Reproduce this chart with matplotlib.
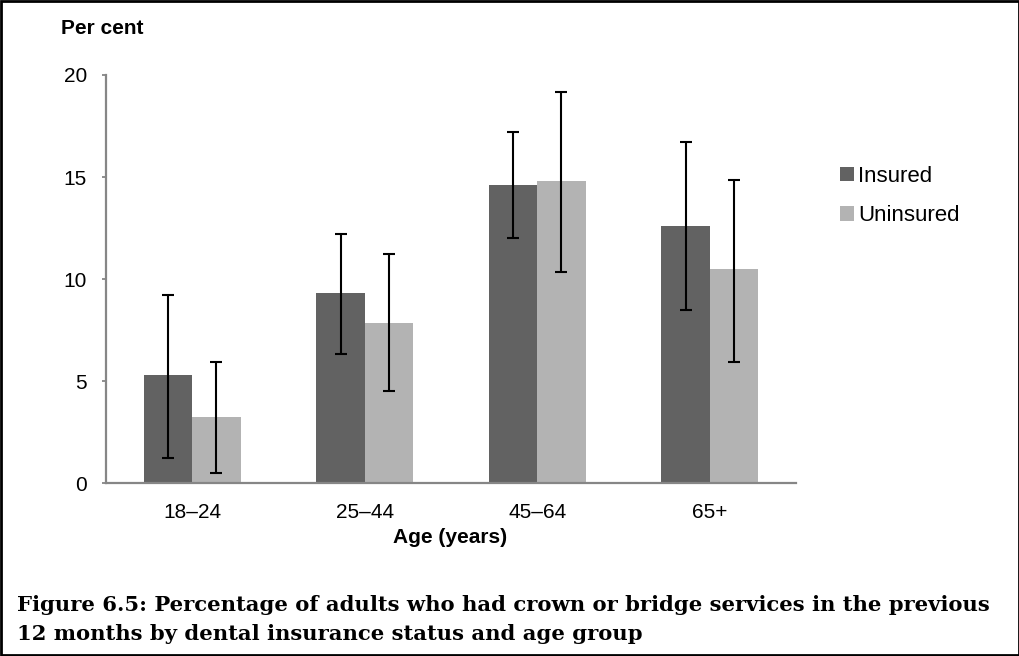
import numpy as np
import matplotlib
matplotlib.use("Agg")
import matplotlib.pyplot as plt
from matplotlib.patches import Rectangle

age_groups = ["18–24", "25–44", "45–64", "65+"]
series_names = ["Insured", "Uninsured"]
insured = [5.3, 9.3, 14.6, 12.6]
insured_low = [1.25, 6.35, 12.0, 8.5]
insured_high = [9.2, 12.2, 17.2, 16.7]
uninsured = [3.25, 7.85, 14.8, 10.5]
uninsured_low = [0.5, 4.5, 10.35, 5.95]
uninsured_high = [5.95, 11.25, 19.15, 14.85]
y_ticks = [0, 5, 10, 15, 20]
caption = ["Figure 6.5: Percentage of adults who had crown or bridge services in the previous",
           "12 months by dental insurance status and age group"]

dark = "#626262"
light = "#b3b3b3"
axis_grey = "#868686"

plt.rcParams["font.family"] = ["Liberation Sans", "DejaVu Sans"]

fig = plt.figure(figsize=(10.2, 6.56), dpi=100)
ax = fig.add_axes([0.1039, 0.2633, 0.6765, 0.6224])

x = np.arange(len(age_groups))
w = 0.28
err_style = dict(fmt="none", ecolor="black", elinewidth=1.5, capsize=4.5, capthick=1.5)

ins = np.array(insured)
unins = np.array(uninsured)
ax.bar(x - w / 2, ins, w, color=dark, label=series_names[0], zorder=2)
ax.bar(x + w / 2, unins, w, color=light, label=series_names[1], zorder=2)
ax.errorbar(x - w / 2, ins, yerr=[ins - np.array(insured_low), np.array(insured_high) - ins], zorder=3, **err_style)
ax.errorbar(x + w / 2, unins, yerr=[unins - np.array(uninsured_low), np.array(uninsured_high) - unins], zorder=3, **err_style)

ax.set_xlim(-0.5, len(age_groups) - 0.5)
ax.set_ylim(0, 20)
ax.set_yticks(y_ticks)
ax.set_xticks(x)
ax.set_xticklabels(age_groups)
ax.tick_params(axis="x", length=0, pad=14, labelsize=15)
ax.tick_params(axis="y", length=3, width=1.3, color=axis_grey, pad=10.7, labelsize=15)
for side in ["top", "right"]:
    ax.spines[side].set_visible(False)
for side in ["left", "bottom"]:
    ax.spines[side].set_color(axis_grey)
    ax.spines[side].set_linewidth(1.6)

fig.text(0.0598, 0.948, "Per cent", fontsize=15, fontweight="bold", va="baseline")
fig.text(0.441, 0.1723, "Age (years)", fontsize=15, fontweight="bold", ha="center", va="baseline")

ax.legend(loc="upper left", bbox_to_anchor=(0.824, 0.747), bbox_transform=fig.transFigure,
          frameon=False, fontsize=16, handlelength=0.63, handleheight=0.63,
          handletextpad=0.18, labelspacing=0.83, borderaxespad=0, borderpad=0)

serif = ["DejaVu Serif", "Liberation Serif"]
fig.text(0.017, 0.069, caption[0], fontsize=15.2, fontweight="bold", family=serif, va="baseline")
fig.text(0.017, 0.0244, caption[1], fontsize=15.2, fontweight="bold", family=serif, va="baseline")

fig.patches.append(Rectangle((0.001, 0.0015), 0.998, 0.997, transform=fig.transFigure,
                             fill=False, edgecolor="black", linewidth=2))

fig.savefig("out.png", dpi=100)
